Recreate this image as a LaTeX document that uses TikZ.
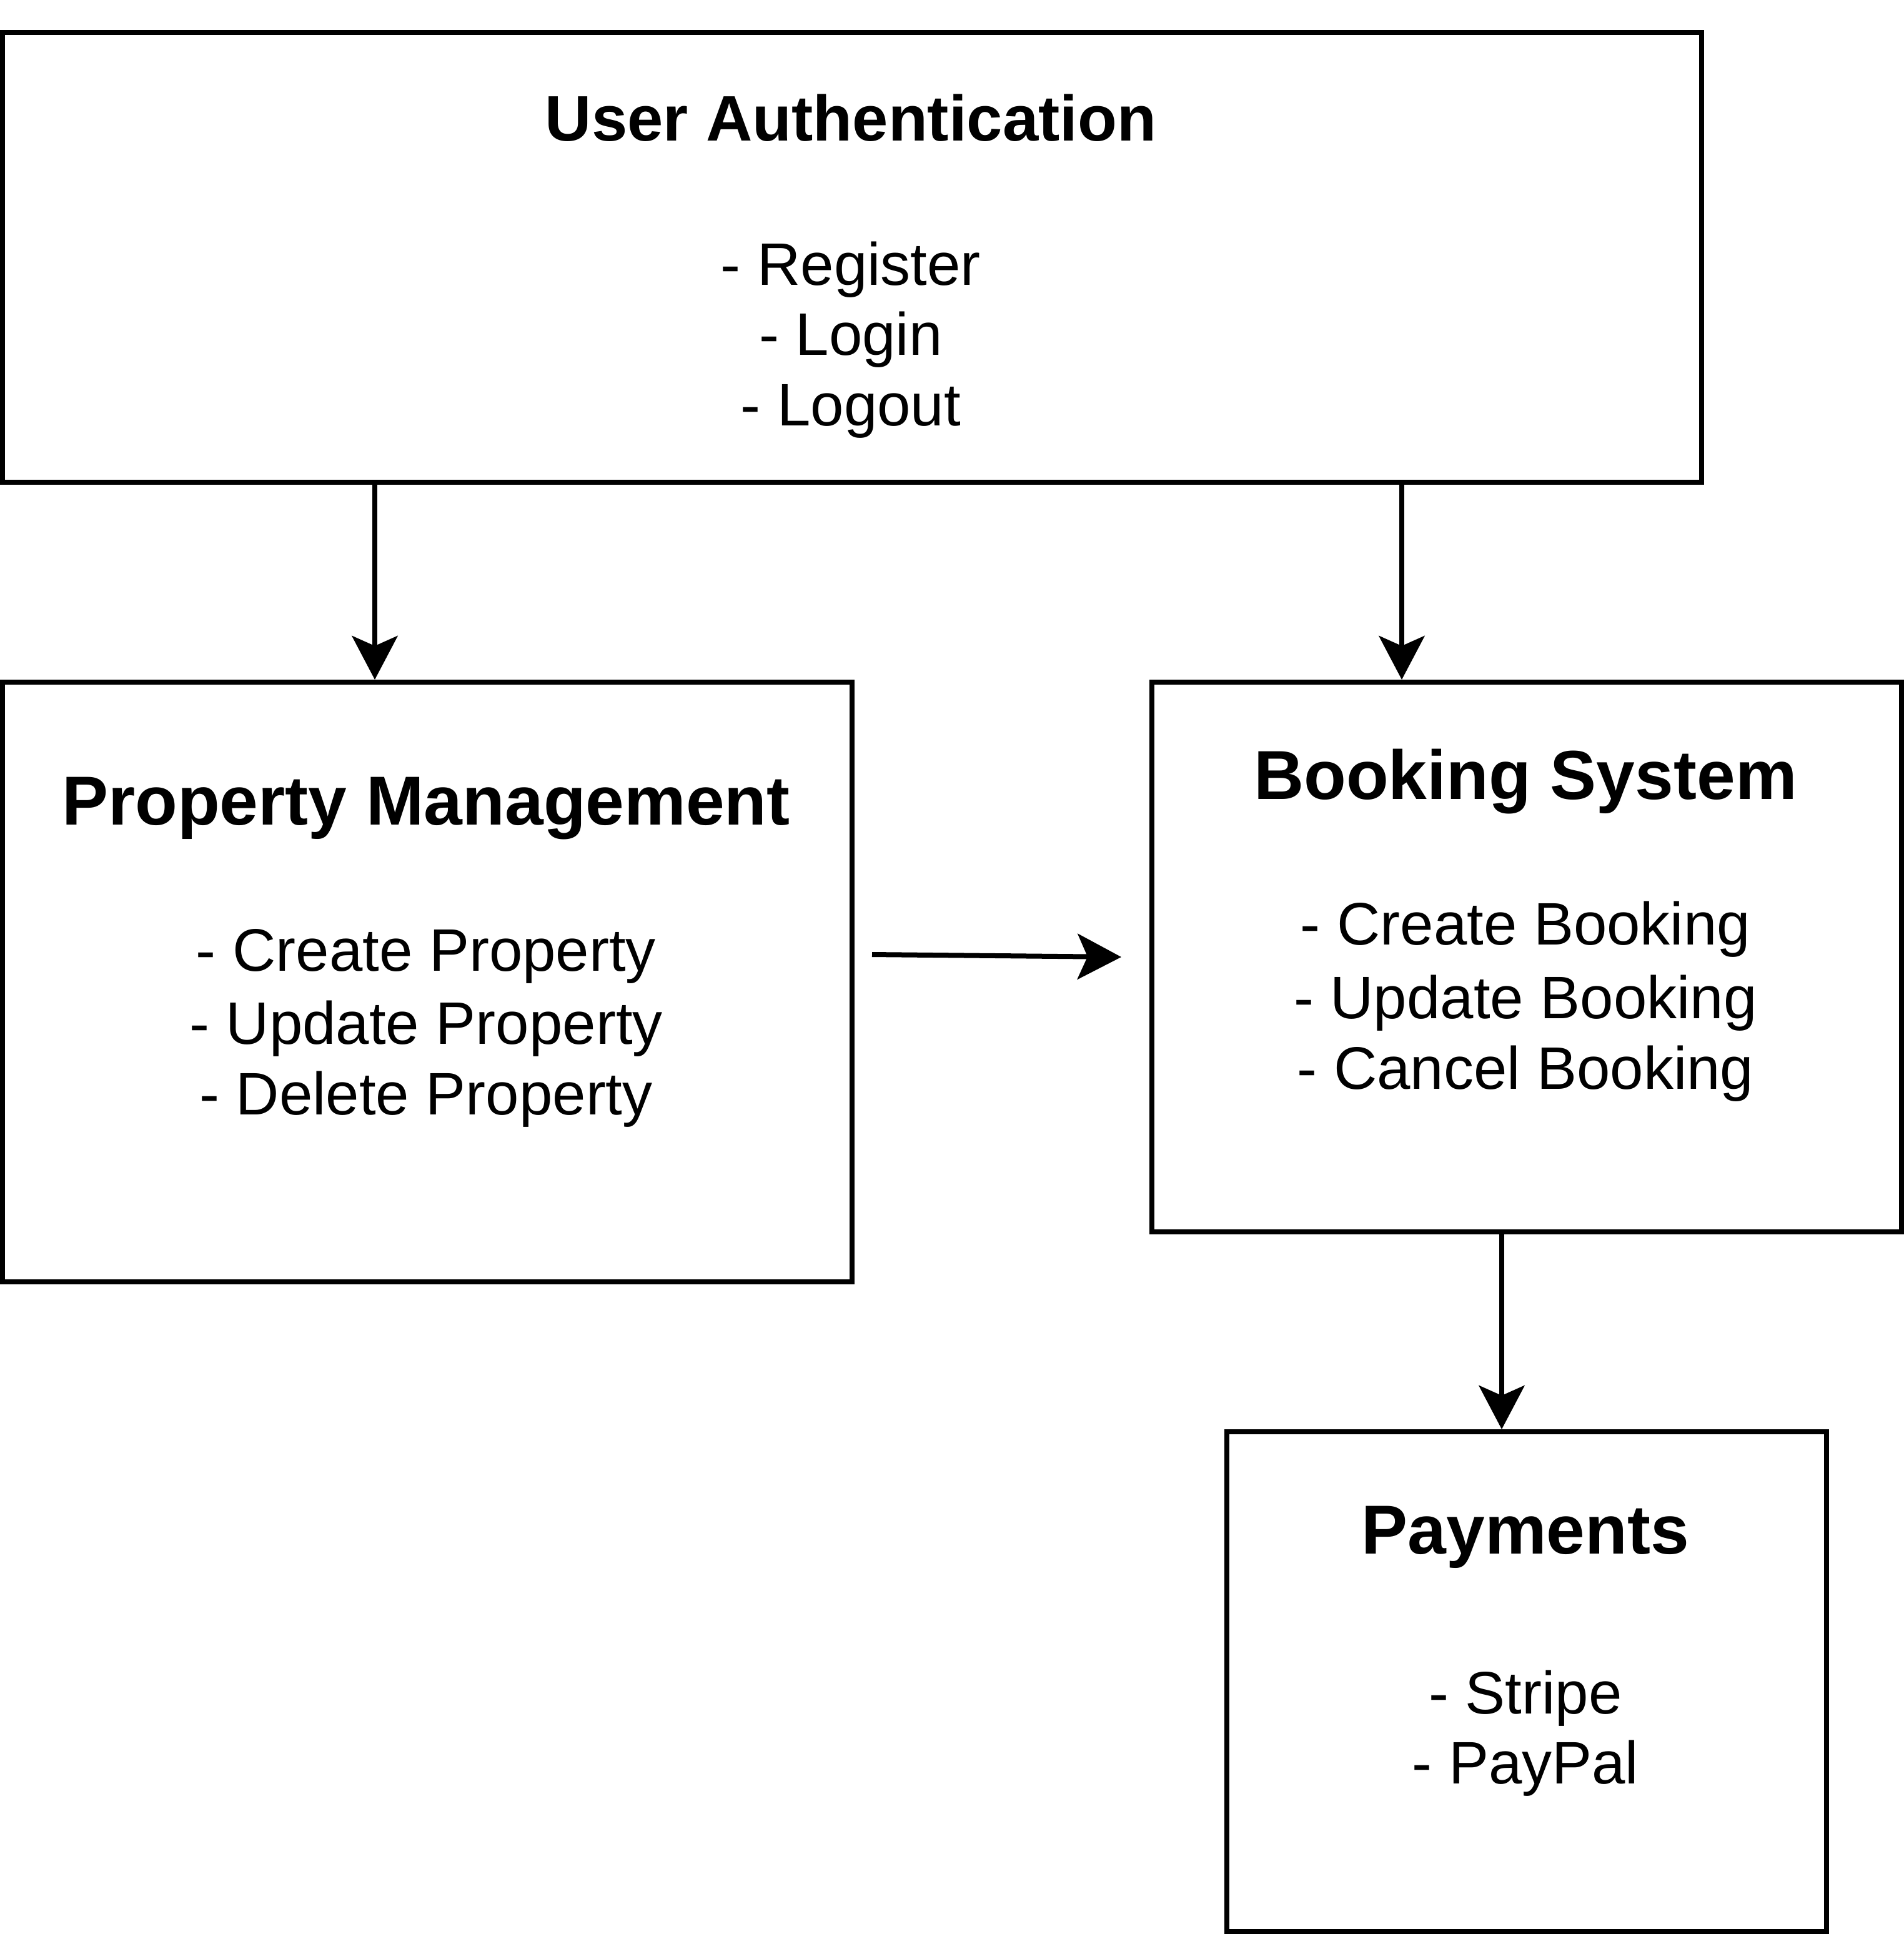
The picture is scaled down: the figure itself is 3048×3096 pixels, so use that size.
\documentclass[tikz,border=0pt]{standalone}
\usepackage{fontspec}
\setmainfont{Liberation Sans}
\usetikzlibrary{arrows.meta}
\tikzset{
  box/.style={draw=black, line width=2pt, fill=white, rectangle, inner sep=0pt},
  arr/.style={draw=black, line width=2pt, -{Stealth[length=17.5pt, width=18.25pt, inset=4pt]}},
  ttl/.style={anchor=base, inner sep=0pt, font=\fontsize{27.75}{33}\selectfont\bfseries},
  ttlsm/.style={anchor=base, inner sep=0pt, font=\fontsize{25.75}{31}\selectfont\bfseries},
  item/.style={anchor=base, inner sep=0pt, font=\fontsize{24}{29}\selectfont}
}
\begin{document}
\begin{tikzpicture}[x=0.25pt,y=-0.25pt]
\useasboundingbox (0,0) rectangle (3048,3096);
\fill[white] (0,0) rectangle (3048,3096);
% boxes
\node[box, minimum width=680pt, minimum height=180pt] (UA) at (1364,412) {};
\node[box, minimum width=340pt, minimum height=240pt] (PM) at (684,1572) {};
\node[box, minimum width=300pt, minimum height=220pt] (BS) at (2444,1532) {};
\node[box, minimum width=240pt, minimum height=200pt] (PY) at (2444,2692) {};
% texts
\node[ttlsm] (uat) at (1362,225) {User Authentication};
\node[item] (ua1) at (1362,456) {- Register};
\node[item] (ua2) at (1362,568) {- Login};
\node[item] (ua3) at (1362,681) {- Logout};
\node[ttl] (pmt) at (682,1320) {Property Management};
\node[item] (pm1) at (682,1554) {- Create Property};
\node[item] (pm2) at (682,1671) {- Update Property};
\node[item] (pm3) at (682,1784) {- Delete Property};
\node[ttl] (bst) at (2442,1279) {Booking System};
\node[item] (bs1) at (2442,1512) {- Create Booking};
\node[item] (bs2) at (2442,1630) {- Update Booking};
\node[item] (bs3) at (2442,1743) {- Cancel Booking};
\node[ttl] (pyt) at (2442,2487) {Payments};
\node[item] (py1) at (2442,2743) {- Stripe};
\node[item] (py2) at (2442,2855) {- PayPal};
% connectors
\draw[arr] (UA.south -| 600,0) -- (PM.north -| 600,0);
\draw[arr] (UA.south -| 2244,0) -- (BS.north -| 2244,0);
\draw[arr] (BS.south -| 2404,0) -- (PY.north -| 2404,0);
\coordinate (h1) at (1396,1528);
\coordinate (h2) at (1795,1532);
\draw[arr] (h1) -- (h2);
\end{tikzpicture}
\end{document}
